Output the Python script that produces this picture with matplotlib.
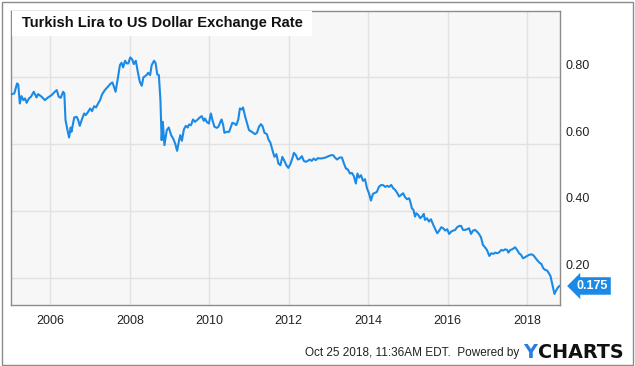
import matplotlib
matplotlib.use("Agg")
import matplotlib.pyplot as plt
from matplotlib.patches import Rectangle

plt.rcParams['font.family'] = ['Liberation Sans', 'DejaVu Sans']

# TRY -> USD (decimal year, rate)
years = [
    2005.00, 2005.09, 2005.16, 2005.19, 2005.23, 2005.27, 2005.32, 2005.36, 2005.40, 2005.46,
    2005.51, 2005.58, 2005.65, 2005.69, 2005.78, 2005.86, 2005.94, 2006.03, 2006.11, 2006.16,
    2006.21, 2006.26, 2006.32, 2006.35, 2006.38, 2006.43, 2006.47, 2006.51, 2006.53, 2006.60,
    2006.66, 2006.70, 2006.74, 2006.80, 2006.85, 2006.89, 2006.95, 2007.00, 2007.05, 2007.10,
    2007.15, 2007.20, 2007.25, 2007.30, 2007.37, 2007.46, 2007.52, 2007.56, 2007.60, 2007.64,
    2007.69, 2007.75, 2007.79, 2007.83, 2007.88, 2007.92, 2007.96, 2008.01, 2008.06, 2008.10,
    2008.15, 2008.20, 2008.25, 2008.30, 2008.34, 2008.42, 2008.46, 2008.51, 2008.55, 2008.61,
    2008.65, 2008.69, 2008.73, 2008.77, 2008.80, 2008.83, 2008.87, 2008.93, 2008.98, 2009.04,
    2009.09, 2009.14, 2009.19, 2009.24, 2009.27, 2009.31, 2009.36, 2009.41, 2009.46, 2009.49,
    2009.54, 2009.59, 2009.64, 2009.71, 2009.76, 2009.81, 2009.86, 2009.89, 2009.94, 2009.99,
    2010.04, 2010.08, 2010.13, 2010.19, 2010.23, 2010.28, 2010.31, 2010.35, 2010.38, 2010.44,
    2010.50, 2010.55, 2010.58, 2010.63, 2010.68, 2010.73, 2010.77, 2010.82, 2010.85, 2010.90,
    2010.94, 2011.00, 2011.07, 2011.15, 2011.20, 2011.25, 2011.30, 2011.34, 2011.39, 2011.45,
    2011.49, 2011.54, 2011.59, 2011.64, 2011.69, 2011.74, 2011.79, 2011.84, 2011.89, 2011.94,
    2011.99, 2012.04, 2012.09, 2012.13, 2012.18, 2012.23, 2012.28, 2012.33, 2012.38, 2012.43,
    2012.48, 2012.53, 2012.58, 2012.63, 2012.68, 2012.73, 2012.80, 2012.86, 2012.93, 2013.00,
    2013.07, 2013.12, 2013.17, 2013.22, 2013.28, 2013.34, 2013.39, 2013.44, 2013.49, 2013.54,
    2013.59, 2013.64, 2013.69, 2013.73, 2013.77, 2013.82, 2013.87, 2013.92, 2013.97, 2014.02,
    2014.07, 2014.12, 2014.17, 2014.22, 2014.27, 2014.33, 2014.38, 2014.43, 2014.48, 2014.53,
    2014.58, 2014.63, 2014.68, 2014.73, 2014.78, 2014.83, 2014.88, 2014.93, 2014.98, 2015.03,
    2015.06, 2015.10, 2015.14, 2015.18, 2015.21, 2015.26, 2015.31, 2015.37, 2015.40, 2015.43,
    2015.48, 2015.53, 2015.58, 2015.64, 2015.69, 2015.74, 2015.79, 2015.84, 2015.89, 2015.94,
    2015.99, 2016.04, 2016.09, 2016.14, 2016.19, 2016.24, 2016.29, 2016.34, 2016.39, 2016.44,
    2016.49, 2016.54, 2016.59, 2016.64, 2016.69, 2016.74, 2016.79, 2016.84, 2016.89, 2016.94,
    2016.99, 2017.05, 2017.10, 2017.15, 2017.20, 2017.25, 2017.30, 2017.35, 2017.40, 2017.45,
    2017.50, 2017.53, 2017.58, 2017.63, 2017.70, 2017.75, 2017.80, 2017.85, 2017.90, 2017.95,
    2018.00, 2018.05, 2018.10, 2018.15, 2018.20, 2018.25, 2018.31, 2018.36, 2018.41, 2018.46,
    2018.51, 2018.56, 2018.59, 2018.63, 2018.66, 2018.69, 2018.73, 2018.78, 2018.82,
]
rates = [
    0.749, 0.752, 0.782, 0.779, 0.722, 0.744, 0.732, 0.737, 0.724, 0.737,
    0.742, 0.757, 0.740, 0.750, 0.742, 0.732, 0.740, 0.747, 0.757, 0.762,
    0.742, 0.739, 0.757, 0.752, 0.672, 0.642, 0.620, 0.650, 0.637, 0.680,
    0.682, 0.672, 0.655, 0.677, 0.692, 0.687, 0.697, 0.707, 0.699, 0.714,
    0.710, 0.722, 0.732, 0.749, 0.762, 0.774, 0.782, 0.785, 0.772, 0.757,
    0.792, 0.837, 0.844, 0.830, 0.850, 0.842, 0.842, 0.860, 0.854, 0.840,
    0.850, 0.817, 0.787, 0.775, 0.800, 0.807, 0.814, 0.807, 0.837, 0.850,
    0.842, 0.809, 0.807, 0.732, 0.612, 0.667, 0.597, 0.642, 0.650, 0.627,
    0.617, 0.602, 0.580, 0.612, 0.627, 0.610, 0.644, 0.655, 0.650, 0.659,
    0.657, 0.674, 0.667, 0.674, 0.680, 0.684, 0.670, 0.677, 0.666, 0.662,
    0.692, 0.672, 0.652, 0.649, 0.652, 0.667, 0.674, 0.657, 0.634, 0.637,
    0.637, 0.654, 0.664, 0.662, 0.657, 0.674, 0.707, 0.704, 0.710, 0.684,
    0.667, 0.642, 0.637, 0.630, 0.634, 0.652, 0.660, 0.654, 0.634, 0.630,
    0.614, 0.604, 0.582, 0.562, 0.570, 0.542, 0.537, 0.562, 0.550, 0.537,
    0.529, 0.540, 0.557, 0.574, 0.567, 0.554, 0.557, 0.564, 0.550, 0.547,
    0.550, 0.554, 0.550, 0.557, 0.552, 0.558, 0.557, 0.558, 0.560, 0.564,
    0.567, 0.567, 0.559, 0.554, 0.560, 0.560, 0.542, 0.527, 0.524, 0.512,
    0.514, 0.504, 0.482, 0.512, 0.500, 0.507, 0.490, 0.495, 0.468, 0.453,
    0.431, 0.451, 0.454, 0.457, 0.472, 0.478, 0.477, 0.472, 0.475, 0.472,
    0.478, 0.468, 0.463, 0.454, 0.443, 0.448, 0.453, 0.441, 0.435, 0.438,
    0.428, 0.408, 0.403, 0.383, 0.393, 0.388, 0.378, 0.385, 0.391, 0.373,
    0.378, 0.368, 0.375, 0.358, 0.345, 0.333, 0.341, 0.351, 0.348, 0.341,
    0.345, 0.331, 0.338, 0.341, 0.343, 0.351, 0.355, 0.355, 0.343, 0.343,
    0.345, 0.348, 0.331, 0.341, 0.343, 0.338, 0.331, 0.321, 0.298, 0.291,
    0.283, 0.265, 0.273, 0.271, 0.275, 0.273, 0.276, 0.283, 0.281, 0.285,
    0.283, 0.275, 0.283, 0.285, 0.291, 0.283, 0.273, 0.268, 0.258, 0.261,
    0.265, 0.268, 0.270, 0.268, 0.261, 0.253, 0.245, 0.241, 0.228, 0.223,
    0.221, 0.211, 0.205, 0.183, 0.165, 0.151, 0.161, 0.171, 0.175,
]

x_ticks = [2006, 2008, 2010, 2012, 2014, 2016, 2018]
y_ticks = [0.20, 0.40, 0.60, 0.80]
y_labels = ["0.20", "0.40", "0.60", "0.80"]
title = "Turkish Lira to US Dollar Exchange Rate"
last_label = "0.175"
footer = "Oct 25 2018, 11:36AM EDT.  Powered by"

BLUE = "#1a8ae6"
W, H = 635, 366

fig = plt.figure(figsize=(W / 100, H / 100), dpi=100)
ax = fig.add_axes([10.7 / W, 1 - 305 / H, (560 - 10.7) / W, (305 - 10.7) / H])
ax.set_facecolor("#f7f7f7")

ax.plot(years, rates, color=BLUE, lw=1.5, solid_joinstyle="round", zorder=3)

ax.set_xlim(2005.0, 2018.83)
ax.set_ylim(0.118, 1.0)

ax.set_xticks(x_ticks)
ax.set_xticklabels([str(y) for y in x_ticks], fontsize=9, color="#222222")
ax.set_yticks(y_ticks)
ax.set_yticklabels([])
ax.tick_params(axis="both", length=0)
ax.tick_params(axis="x", pad=7)
ax.grid(True, color="#e2e2e2", lw=1, zorder=0)

for s in ax.spines.values():
    s.set_color("#8c8c8c")
    s.set_linewidth(1)

# right-hand value labels sit just above their grid lines
for v, lab in zip(y_ticks, y_labels):
    ax.annotate(lab, xy=(1, v), xycoords=("axes fraction", "data"),
                xytext=(4, 4), textcoords="offset points",
                ha="left", va="bottom", fontsize=9, color="#222222")

# last value flag
ax.annotate(last_label, xy=(1, rates[-1]), xycoords=("axes fraction", "data"),
            xytext=(12, 0), textcoords="offset points",
            ha="left", va="center", fontsize=9, fontweight="bold", color="white",
            bbox=dict(boxstyle="larrow,pad=0.22", fc=BLUE, ec="none"),
            annotation_clip=False)

# title box
fig.patches.append(Rectangle((11.5 / W, 1 - 35.7 / H), (312 - 11.5) / W, 24.5 / H,
                             transform=fig.transFigure, fc="white", ec="none", zorder=5))
fig.text(21.7 / W, 1 - 23.3 / H, title, fontsize=10.6, fontweight="bold",
         ha="left", va="center", color="#111111", zorder=6)

# footer
fig.text(519 / W, 1 - 352.7 / H, footer, fontsize=8.5, ha="right", va="center",
         color="#222222")
fig.text(523 / W, 1 - 352 / H, "Y", fontsize=13.8, fontweight="bold", family="DejaVu Sans",
         ha="left", va="center", color="#2b7de0")
fig.text(538 / W, 1 - 352 / H, "CHARTS", fontsize=13.8, fontweight="bold", family="DejaVu Sans",
         ha="left", va="center", color="#111111")

# outer frame
fig.patches.append(Rectangle((1.5 / W, 1.5 / H), (W - 3.5) / W, (H - 3.5) / H,
                             transform=fig.transFigure, fc="none", ec="#8a8a8a", lw=1))

fig.savefig("out.png", dpi=100)
